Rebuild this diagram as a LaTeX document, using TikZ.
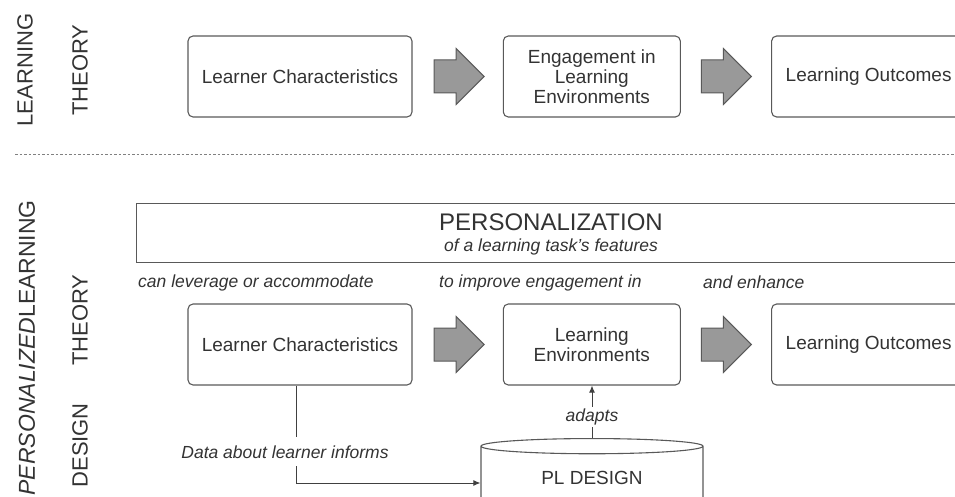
\documentclass[tikz,border=0pt]{standalone}
\usepackage{fontspec}
\setmainfont{Liberation Sans}
\usetikzlibrary{positioning}
\usetikzlibrary{shapes.arrows, shapes.geometric, arrows.meta}

\begin{document}
\begin{tikzpicture}
		[
		x=1pt, y=-1pt,
		font=\fontsize{19}{20}\selectfont,
		text=black!80,
		flow/.style={draw=black!75, line width=1pt, -{Latex[length=7pt,width=6pt]}}
		]
		
		% Node styles: boxes, block arrows, labels
		\tikzstyle{box node}=[draw=black!65, line width=1.1pt, rounded corners=5pt, minimum height=81pt, align=center, inner sep=0]
		\tikzstyle{big arrow}=[single arrow, draw=black!65, fill=black!40, line width=1pt, minimum height=50pt, inner xsep=0, inner ysep=16pt, single arrow head extend=11.5pt]
		\tikzstyle{side label}=[rotate=90, inner sep=0, font=\fontsize{22}{24}\selectfont]
		\tikzstyle{note}=[inner sep=0, font=\fontsize{17.5}{18}\selectfont\itshape]
		
		\useasboundingbox (0,0) rectangle (955,497);
		
		% Learning theory
		\node[side label] (l1) at (25,70) {LEARNING};
		\node[side label] (t1) at (80,70) {THEORY};
		\node[box node, minimum width=224pt] (lc1) at (300,76.5) {Learner Characteristics};
		\node[big arrow, right=21pt of lc1] (a1) {};
		\node[box node, minimum width=177pt, right=18pt of a1] (eng1) {Engagement in\\Learning\\Environments};
		\node[big arrow, right=20pt of eng1] (a2) {};
		\node[box node, minimum width=194pt, right=19pt of a2] (out1) {Learning Outcomes};
		
		% Divider
		\draw[black!50, line width=1pt, dash pattern=on 2.5pt off 2pt] (15,155) -- (955,155);
		
		% Personalized learning
		\node[side label, anchor=east, font=\fontsize{23}{24}\selectfont] (l2) at (27,200) {\textit{PERSONALIZED}LEARNING};
		\node[side label] (t2) at (80,320) {THEORY};
		\node[side label, anchor=east] (d2) at (80,403) {DESIGN};
		
		\node[draw=black!65, line width=1.1pt, minimum width=830pt, minimum height=59pt, anchor=north west, inner sep=0] (pers) at (136,203) {};
		\node[font=\fontsize{24}{26}\selectfont] (ptitle) at (551,222) {PERSONALIZATION};
		\node[note] (psub) at (551,247) {of a learning task's features};
		
		\node[note, anchor=west] (n1) at (138,283) {can leverage or accommodate};
		\node[note, anchor=west] (n2) at (439,283) {to improve engagement in};
		\node[note, anchor=west] (n3) at (703,282) {and enhance};
		
		\node[box node, minimum width=224pt] (lc2) at (300,344.5) {Learner Characteristics};
		\node[big arrow, right=21pt of lc2] (a3) {};
		\node[box node, minimum width=177pt, right=18pt of a3] (env2) {Learning\\Environments};
		\node[big arrow, right=20pt of env2] (a4) {};
		\node[box node, minimum width=194pt, right=19pt of a4] (out2) {Learning Outcomes};
		
		% PL design store
		\node[cylinder, shape border rotate=90, draw=black!65, line width=1.1pt, minimum width=222pt, minimum height=70pt, aspect=0.15, anchor=north, inner sep=0] (pl) at (592,438) {PL DESIGN};
		
		% Connectors
		\coordinate (dcor) at (296,483);
		\draw[flow] (lc2.south -| dcor) -- node[note, fill=white, inner ysep=8pt, inner xsep=2pt, xshift=-11pt, pos=0.68] (dlbl) {Data about learner informs} (dcor) -- (dcor -| pl.west);
		\draw[flow] (pl.north) -- node[note, fill=white, inner ysep=2pt, pos=0.4] (albl) {adapts} (pl.north |- env2.south);
		
\end{tikzpicture}
\end{document}
